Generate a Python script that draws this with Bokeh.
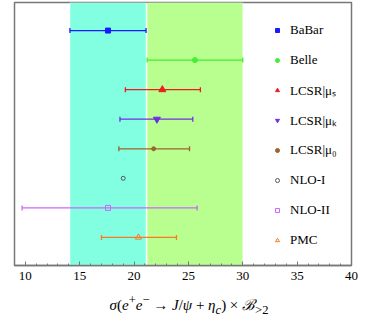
from bokeh.plotting import figure
from bokeh.models import (BoxAnnotation, Whisker, TeeHead, ColumnDataSource, Legend,
                          LegendItem, SingleIntervalTicker, FactorRange, Div)
from bokeh.layouts import column
from bokeh.embed import file_html
from bokeh.resources import INLINE

# ---- data ----
names = ["BaBar", "Belle", "LCSR|μₛ", "LCSR|μₖ", "LCSR|μ₀", "NLO-I", "NLO-II", "PMC"]
central = [17.6, 25.6, 22.6, 22.1, 21.8, 19.0, 17.6, 20.4]
lower = [14.1, 21.2, 19.2, 18.7, 18.6, None, 9.7, 17.0]
upper = [21.1, 30.0, 26.1, 25.4, 25.1, None, 25.8, 23.9]
x_ticks = [10, 15, 20, 25, 30, 35, 40]

# ---- style ----
colors = ["#1a1aff", "#44ee33", "#ee1c1c", "#7030e0", "#a0622d", "#555555", "#cc66ff", "#ff7722"]
markers = ["square", "circle", "triangle", "inverted_triangle", "circle", "circle", "square", "triangle"]
filled = [True, True, True, True, True, False, False, False]
sizes = [5, 5, 7, 7, 4, 4, 5, 6]
serif = "Liberation Serif"

FRAME_H = 263
p = figure(width=360, height=2 + FRAME_H + 21, x_range=(9.0, 40.0),
           y_range=FactorRange(factors=names[::-1], range_padding=0.45,
                               range_padding_units="absolute"),
           output_backend="svg", toolbar_location=None,
           min_border_left=14, min_border_right=9, min_border_top=2, min_border_bottom=21)

p.grid.visible = False
p.yaxis.visible = False
p.outline_line_color = "#777777"
p.outline_line_width = 1.5
p.background_fill_color = "white"

# bands from BaBar and Belle measurements
p.add_layout(BoxAnnotation(left=lower[0], right=upper[0], fill_color="#82ffe0",
                           fill_alpha=1.0, line_color="white", line_width=1.5, level="underlay"))
p.add_layout(BoxAnnotation(left=lower[1], right=upper[1], fill_color="#b8ff90",
                           fill_alpha=1.0, line_color="white", line_width=1.5, level="underlay"))

items = []
for i, name in enumerate(names):
    if lower[i] is not None:
        src = ColumnDataSource(dict(y=[name], lo=[lower[i]], hi=[upper[i]]))
        w = Whisker(source=src, base="y", lower="lo", upper="hi", dimension="width",
                    line_color=colors[i], line_width=1.3,
                    lower_head=TeeHead(size=5, line_color=colors[i], line_width=1.3),
                    upper_head=TeeHead(size=5, line_color=colors[i], line_width=1.3))
        p.add_layout(w)
    r = p.scatter(x=[central[i]], y=[name], marker=markers[i], size=sizes[i],
                  line_color=colors[i], line_width=1,
                  fill_color=colors[i] if filled[i] else None)
    items.append(LegendItem(label=name, renderers=[r]))

legend = Legend(items=items, location=(258, FRAME_H - 18 - 230), glyph_width=10,
                glyph_height=20, label_height=20, spacing=10, padding=0, margin=0,
                label_standoff=8, border_line_color=None, background_fill_alpha=0,
                label_text_font=serif, label_text_font_size="13px", label_text_color="black")
p.add_layout(legend, "center")

xa = p.xaxis[0]
xa.ticker = SingleIntervalTicker(interval=5, num_minor_ticks=5)
xa.axis_line_color = "#777777"
xa.axis_line_width = 1.5
xa.major_tick_line_color = "#777777"
xa.minor_tick_line_color = "#777777"
xa.major_tick_in = 4
xa.major_tick_out = 0
xa.minor_tick_in = 2
xa.minor_tick_out = 0
xa.major_label_text_font = serif
xa.major_label_text_font_size = "13px"
xa.major_label_text_color = "black"
xa.major_label_standoff = 6

title = Div(text="<i>σ</i>(<i>e</i><sup>+</sup><i>e</i><sup>−</sup> → <i>J</i>/<i>ψ</i> + "
                 "<i>η</i><sub><i>c</i></sub>) × <i>ℬ</i><sub>&gt;2</sub>",
            width=360, height=24,
            styles={"font-family": serif, "font-size": "15px", "text-align": "center",
                    "color": "black", "line-height": "18px", "padding-left": "8px",
                    "box-sizing": "border-box"})

layout = column(p, title, spacing=0)
open("out.html", "w").write(file_html(layout, INLINE))
